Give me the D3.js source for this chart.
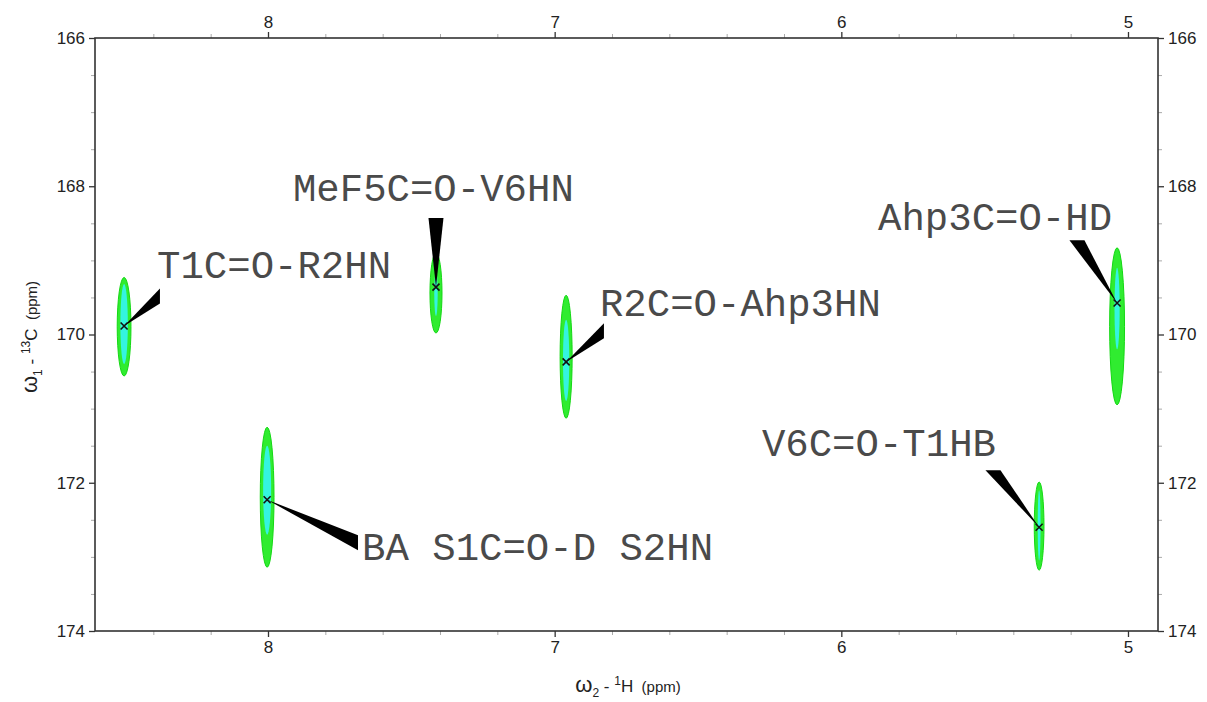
<!DOCTYPE html>
<html>
<head>
<meta charset="utf-8">
<script src="https://cdn.jsdelivr.net/npm/d3@7"></script>
<style>
  body { margin: 0; background: #fff; }
  svg { display: block; }
</style>
</head>
<body>
<div id="chart-area"></div>
<script>
// peak assignments
var peakNames = ["T1C=O-R2HN", "MeF5C=O-V6HN", "R2C=O-Ahp3HN", "Ahp3C=O-HD", "V6C=O-T1HB", "BA S1C=O-D S2HN"];
// peak centres (ppm)
var peakH = [8.502, 7.414, 6.960, 5.038, 5.310, 8.003];
var peakC = [169.885, 169.36, 170.37, 169.575, 172.60, 172.23];
// contour extents (ppm)
var outerTop    = [169.23, 168.90, 169.47, 168.83, 171.99, 171.25];
var outerBottom = [170.56, 169.98, 171.13, 170.95, 173.18, 173.14];
var outerHalfW  = [0.024, 0.021, 0.021, 0.026, 0.017, 0.024];
var innerTop    = [169.32, 169.15, 169.80, 169.10, 172.10, 171.50];
var innerBottom = [170.40, 169.75, 170.90, 170.20, 173.05, 172.70];
var innerHalfW  = [0.013, 0.006, 0.011, 0.009, 0.005, 0.014];
// label leader ends and label anchors (ppm)
var leaderH = [8.377, 7.414, 6.828, 5.178, 5.471, 7.686];
var leaderC = [169.48, 168.43, 169.95, 168.73, 171.83, 172.81];
var labelH  = [8.387, 7.913, 6.842, 5.872, 6.277, 7.672];
var labelC  = [169.24, 168.20, 169.75, 168.59, 171.64, 173.04];

// axis ticks
var xMajor = [8, 7, 6, 5];
var yMajor = [166, 168, 170, 172, 174];
var xMinor = [8.4, 8.2, 7.8, 7.6, 7.4, 7.2, 6.8, 6.6, 6.4, 6.2, 5.8, 5.6, 5.4, 5.2];
var yMinor = [166.5, 167, 167.5, 168.5, 169, 169.5, 170.5, 171, 171.5, 172.5, 173, 173.5];

var svgWidth = 1207, svgHeight = 702;
var margin = { top: 38, left: 95, right: 49, bottom: 71 };
var width = svgWidth - margin.left - margin.right;
var height = svgHeight - margin.top - margin.bottom;

var svg = d3.select("#chart-area").append("svg")
  .attr("width", svgWidth)
  .attr("height", svgHeight);

var graph = svg.append("g")
  .attr("transform", "translate(" + margin.left + "," + margin.top + ")");

var xScale = d3.scaleLinear().domain([8.6035, 4.8953]).range([0, width]);
var yScale = d3.scaleLinear().domain([166, 174]).range([0, height]);

// axes, all four sides
function styleAxis(g) {
  g.select(".domain").remove();
  g.selectAll("line").attr("stroke", "#333").attr("stroke-width", 1.3);
  g.selectAll("text").attr("font-family", "Liberation Sans, Arial, sans-serif")
    .attr("font-size", "17px").attr("fill", "#222");
}
function styleMinor(g) {
  g.select(".domain").remove();
  g.selectAll("line").attr("stroke", "#aaa").attr("stroke-width", 1);
}
var fmt = d3.format("d");

graph.append("g").call(d3.axisTop(xScale).tickValues(xMinor).tickSize(4).tickFormat("")).call(styleMinor);
graph.append("g").attr("transform", "translate(0," + height + ")")
  .call(d3.axisBottom(xScale).tickValues(xMinor).tickSize(4).tickFormat("")).call(styleMinor);
graph.append("g").call(d3.axisLeft(yScale).tickValues(yMinor).tickSize(4).tickFormat("")).call(styleMinor);
graph.append("g").attr("transform", "translate(" + width + ",0)")
  .call(d3.axisRight(yScale).tickValues(yMinor).tickSize(4).tickFormat("")).call(styleMinor);

graph.append("g").call(d3.axisTop(xScale).tickValues(xMajor).tickSize(6).tickPadding(4).tickFormat(fmt)).call(styleAxis);
graph.append("g").attr("transform", "translate(0," + height + ")")
  .call(d3.axisBottom(xScale).tickValues(xMajor).tickSize(6).tickPadding(4).tickFormat(fmt)).call(styleAxis);
graph.append("g").call(d3.axisLeft(yScale).tickValues(yMajor).tickSize(6).tickPadding(4).tickFormat(fmt)).call(styleAxis);
graph.append("g").attr("transform", "translate(" + width + ",0)")
  .call(d3.axisRight(yScale).tickValues(yMajor).tickSize(6).tickPadding(4).tickFormat(fmt)).call(styleAxis);

// frame
graph.append("rect")
  .attr("width", width).attr("height", height)
  .attr("fill", "none").attr("stroke", "#333").attr("stroke-width", 1.6);

// axis titles
function axisTitle(t, sub, sup, nucleus) {
  t.attr("text-anchor", "middle")
   .attr("font-family", "Liberation Sans, Arial, sans-serif")
   .attr("font-size", "17px").attr("fill", "#222");
  t.append("tspan").attr("font-size", "22px").text("\u03c9");
  t.append("tspan").attr("font-size", "12px").attr("dy", 5).text(sub);
  t.append("tspan").attr("dy", -5).text(" - ");
  t.append("tspan").attr("font-size", "12px").attr("dy", -7).text(sup);
  t.append("tspan").attr("dy", 7).text(nucleus);
  t.append("tspan").attr("font-size", "15px").text("\u00a0 (ppm)");
}
axisTitle(svg.append("text").attr("x", 628).attr("y", 692), "2", "1", "H");
axisTitle(svg.append("text").attr("transform", "translate(37,337) rotate(-90)"), "1", "13", "C");

// peaks
var peaks = peakNames.map((name, i) => ({
  name: name, h: peakH[i], c: peakC[i],
  oTop: outerTop[i], oBot: outerBottom[i], oW: outerHalfW[i],
  iTop: innerTop[i], iBot: innerBottom[i], iW: innerHalfW[i],
  lh: leaderH[i], lc: leaderC[i], th: labelH[i], tc: labelC[i]
}));

var plot = graph.append("g").attr("class", "peaks");

plot.selectAll("ellipse.outer").data(peaks).enter().append("ellipse")
  .attr("class", "outer")
  .attr("cx", d => xScale(d.h))
  .attr("cy", d => (yScale(d.oTop) + yScale(d.oBot)) / 2)
  .attr("rx", d => Math.abs(xScale(d.h - d.oW) - xScale(d.h)))
  .attr("ry", d => (yScale(d.oBot) - yScale(d.oTop)) / 2)
  .attr("fill", "#30ec30").attr("stroke", "#14d814").attr("stroke-width", 1);

plot.selectAll("ellipse.inner").data(peaks).enter().append("ellipse")
  .attr("class", "inner")
  .attr("cx", d => xScale(d.h))
  .attr("cy", d => (yScale(d.iTop) + yScale(d.iBot)) / 2)
  .attr("rx", d => Math.abs(xScale(d.h - d.iW) - xScale(d.h)))
  .attr("ry", d => (yScale(d.iBot) - yScale(d.iTop)) / 2)
  .attr("fill", "#34f4e0");

// leader wedges
var half = 7.5;
plot.selectAll("path.wedge").data(peaks).enter().append("path")
  .attr("class", "wedge")
  .attr("fill", "#000")
  .attr("d", d => {
    var x0 = xScale(d.h), y0 = yScale(d.c);
    var x1 = xScale(d.lh), y1 = yScale(d.lc);
    var pts;
    if (Math.abs(x1 - x0) > Math.abs(y1 - y0)) {
      pts = [[x0, y0], [x1, y1 - half], [x1, y1 + half]];
    } else {
      pts = [[x0, y0], [x1 - half, y1], [x1 + half, y1]];
    }
    return "M" + pts.map(p => p.join(",")).join("L") + "Z";
  });

// peak markers
var s = 3.5;
plot.selectAll("path.mark").data(peaks).enter().append("path")
  .attr("class", "mark")
  .attr("stroke", "#111").attr("stroke-width", 1.6)
  .attr("d", d => {
    var x = xScale(d.h), y = yScale(d.c);
    return "M" + (x - s) + "," + (y - s) + "L" + (x + s) + "," + (y + s) +
           "M" + (x - s) + "," + (y + s) + "L" + (x + s) + "," + (y - s);
  });

// labels
plot.selectAll("text.label").data(peaks).enter().append("text")
  .attr("class", "label")
  .attr("x", d => xScale(d.th))
  .attr("y", d => yScale(d.tc))
  .attr("font-family", "Liberation Mono, Courier New, monospace")
  .attr("font-size", "39px")
  .attr("fill", "#4a4a4a")
  .style("white-space", "pre")
  .text(d => d.name);
</script>
</body>
</html>
